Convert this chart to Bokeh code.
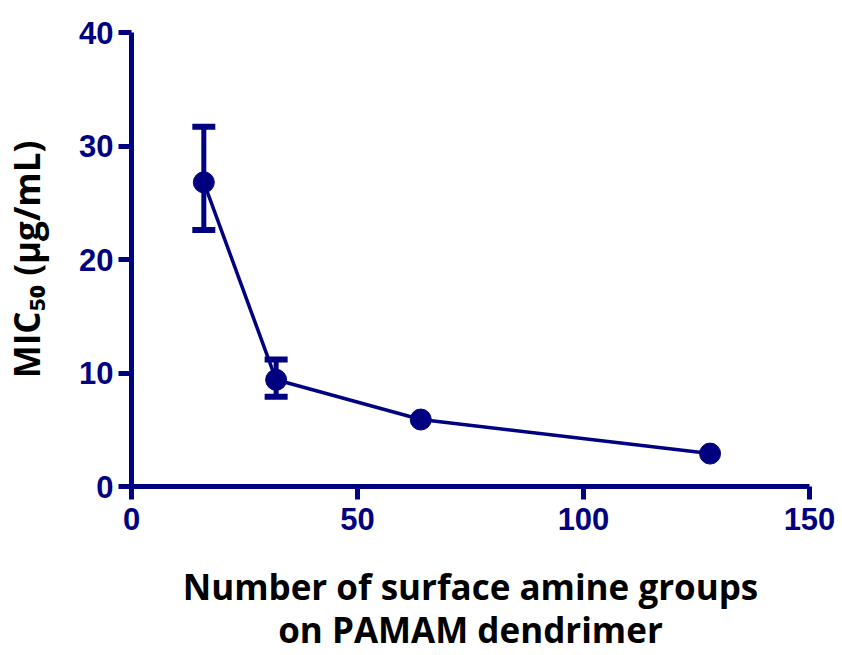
from bokeh.plotting import figure
from bokeh.models import ColumnDataSource, Whisker, TeeHead, FixedTicker
from bokeh.embed import file_html
from bokeh.resources import INLINE

# Data
amine_groups = [16, 32, 64, 128]
mic50 = [26.8, 9.4, 5.9, 2.9]
err_x = [16, 32]
err_upper = [31.7, 11.2]
err_lower = [22.6, 7.9]
x_ticks = [0, 50, 100, 150]
y_ticks = [0, 10, 20, 30, 40]
x_title = "Number of surface amine groups\non PAMAM dendrimer"
y_title = "MIC\u2085\u2080 (\u00b5g/mL)"

NAVY = "#000080"

p = figure(width=842, height=655, output_backend="svg", toolbar_location=None,
           x_range=(0, 150), y_range=(0, 40),
           min_border_left=131, min_border_right=33, min_border_top=32, min_border_bottom=169)
p.outline_line_color = None
p.xgrid.grid_line_color = None
p.ygrid.grid_line_color = None
p.background_fill_color = "white"
p.border_fill_color = "white"

for ax in (p.xaxis[0], p.yaxis[0]):
    ax.axis_line_color = NAVY
    ax.axis_line_width = 5
    ax.major_tick_line_color = NAVY
    ax.major_tick_line_width = 5
    ax.major_tick_in = 0
    ax.major_tick_out = 13
    ax.minor_tick_line_color = None
    ax.major_label_text_color = NAVY
    ax.major_label_text_font = "Liberation Sans"
    ax.major_label_text_font_style = "bold"
    ax.major_label_text_font_size = "31px"
    ax.axis_label_text_font = "Open Sans"
    ax.axis_label_text_font_style = "bold"
    ax.axis_label_text_font_size = "35px"
    ax.axis_label_text_color = "black"

p.xaxis[0].ticker = FixedTicker(ticks=x_ticks)
p.yaxis[0].ticker = FixedTicker(ticks=y_ticks)
p.xaxis[0].major_label_standoff = 8
p.yaxis[0].major_label_standoff = 5

p.xaxis[0].axis_label = x_title
p.xaxis[0].axis_label_text_line_height = 0.92
p.xaxis[0].axis_label_standoff = 30
p.yaxis[0].axis_label = y_title
p.yaxis[0].axis_label_standoff = 26

src = ColumnDataSource(dict(x=amine_groups, y=mic50))
esrc = ColumnDataSource(dict(x=err_x, upper=err_upper, lower=err_lower))

p.line("x", "y", source=src, line_color=NAVY, line_width=3.5)
w = Whisker(base="x", upper="upper", lower="lower", source=esrc,
            line_color=NAVY, line_width=5,
            upper_head=TeeHead(size=23, line_color=NAVY, line_width=6),
            lower_head=TeeHead(size=23, line_color=NAVY, line_width=6))
p.add_layout(w)
p.scatter("x", "y", source=src, size=21, fill_color=NAVY, line_color=NAVY)

open("out.html", "w").write(file_html(p, INLINE))
